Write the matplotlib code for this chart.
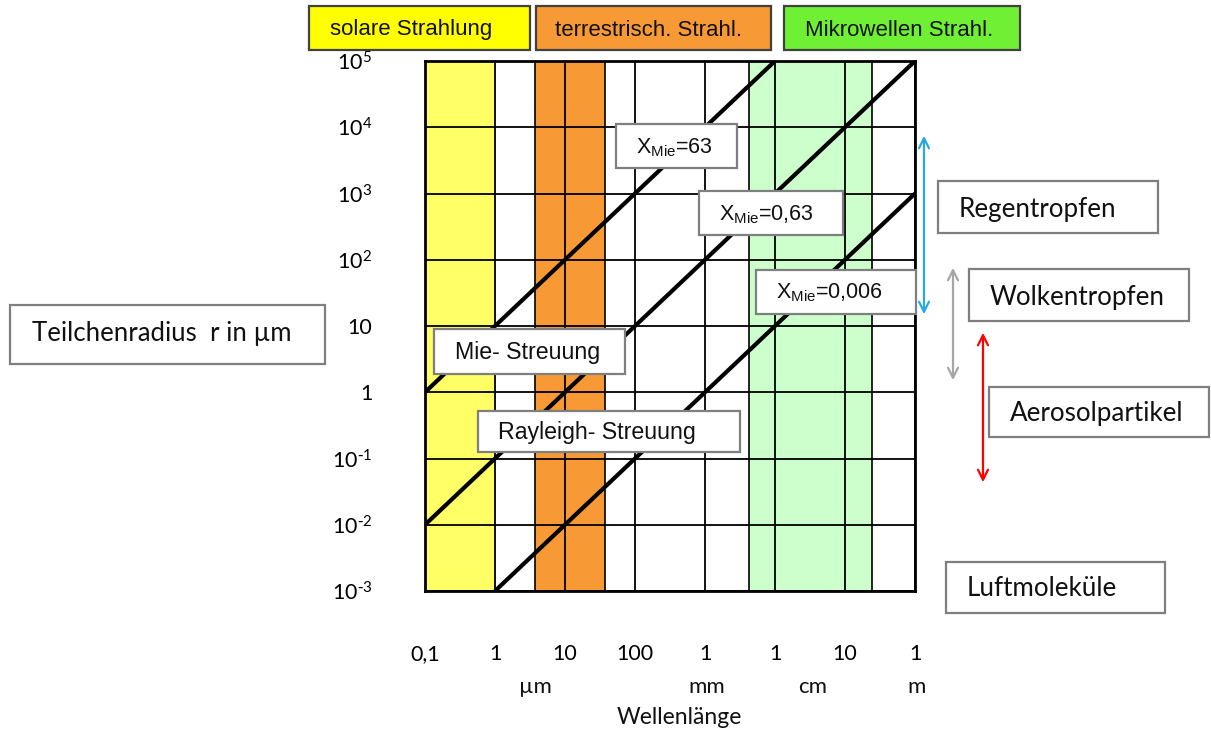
import numpy as np
import matplotlib
matplotlib.use("Agg")
import matplotlib.pyplot as plt
from matplotlib.patches import Rectangle

# Achsen: Wellenlaenge in um, Teilchenradius in um
x_ticks = [0.1, 1, 10, 100, 1e3, 1e4, 1e5, 1e6]
x_labels = ["0,1", "1", "10", "100", "1", "1", "10", "1"]
y_ticks = [1e-3, 1e-2, 1e-1, 1, 10, 1e2, 1e3, 1e4, 1e5]
y_labels = [r"$\mathregular{10^{\text{-}3}}$", r"$\mathregular{10^{\text{-}2}}$",
            r"$\mathregular{10^{\text{-}1}}$", "1", "10", r"$\mathregular{10^{2}}$",
            r"$\mathregular{10^{3}}$", r"$\mathregular{10^{4}}$", r"$\mathregular{10^{5}}$"]

# Strahlungsbereiche (um)
solar_band = [0.1, 1]
terr_band = [3.7, 37]
micro_band = [4.2e3, 2.4e5]

# Linien konstanter Mie-Parameter (Endpunkte aus dem Bild)
lam_63 = [0.1, 1e4]
r_63 = [1, 1e5]
lam_063 = [0.1, 1e6]
r_063 = [1e-2, 1e5]
lam_0006 = [1, 1e6]
r_0006 = [1e-3, 1e3]

CAL = ["Lato", "DejaVu Sans"]
ARI = ["Liberation Sans", "DejaVu Sans"]

W, H = 1211, 736
fig = plt.figure(figsize=(W / 100, H / 100), dpi=100)
ax = fig.add_axes([425 / W, 1 - 591 / H, 490 / W, 530 / H])
ax.set_xscale("log")
ax.set_yscale("log")
ax.set_xlim(0.1, 1e6)
ax.set_ylim(1e-3, 1e5)

ax.axvspan(*solar_band, color="#FFFF66", lw=0)
ax.axvspan(*terr_band, color="#F79A35", lw=0)
ax.axvspan(*micro_band, color="#CCFFCC", lw=0)
for v in terr_band + micro_band:
    ax.axvline(v, color="black", lw=1.2, zorder=1.6)

ax.set_xticks(x_ticks)
ax.set_xticklabels(x_labels, fontfamily=CAL, fontsize=15.5)
ax.set_yticks(y_ticks)
ax.set_yticklabels(y_labels, fontfamily=CAL, fontsize=15.5)
ax.minorticks_off()
ax.tick_params(length=0, pad=38)
ax.grid(True, color="black", lw=1.3)
for s in ax.spines.values():
    s.set_linewidth(2)
    s.set_color("black")

for lx, ly in [(lam_63, r_63), (lam_063, r_063), (lam_0006, r_0006)]:
    ax.plot(lx, ly, color="black", lw=3, solid_capstyle="butt")

# Ueberlagerung in Pixelkoordinaten fuer Kaesten und Beschriftung
ov = fig.add_axes([0, 0, 1, 1], zorder=5)
ov.set_xlim(0, W)
ov.set_ylim(H, 0)
ov.axis("off")
ov.patch.set_alpha(0)


def box(x0, y0, x1, y1, text, tx, ty, fam, fs, fc="white", ec="#7f7f7f", clip=None):
    ov.add_patch(Rectangle((x0, y0), x1 - x0, y1 - y0, facecolor=fc, edgecolor=ec, lw=1.6))
    t = ov.text(tx, ty, text, family=fam, fontsize=fs, va="center", ha="left", color="#111111")
    if clip is not None:
        cp = Rectangle((x0, y0), x1 - x0, clip - y0, transform=ov.transData)
        t.set_clip_path(cp)


# Kopfzeile
box(309, 6, 530, 50, "solare Strahlung", 330, 30, ARI, 16, fc="#FFFF00", ec="#404040", clip=38)
box(536, 6, 771, 50, "terrestrisch. Strahl.", 555, 30, ARI, 16, fc="#F79A35", ec="#404040")
box(784, 6, 1020, 50, "Mikrowellen Strahl.", 805, 30, ARI, 16, fc="#6FF035", ec="#404040")

# Kaesten im Diagramm
box(616, 124, 737, 168, r"$\mathregular{X_{Mie}}$=63", 636, 148, ARI, 15.5)
box(699, 191, 843, 235, r"$\mathregular{X_{Mie}}$=0,63", 719, 215, ARI, 15.5)
box(756, 270, 916, 314, r"$\mathregular{X_{Mie}}$=0,006", 776, 293, ARI, 15.5)
box(434, 329, 625, 374, "Mie- Streuung", 455, 353, ARI, 16.7, clip=362)
box(478, 411, 740, 452, "Rayleigh- Streuung", 498, 432, ARI, 16.7, clip=441)

# Kaesten rechts und links
box(938, 181, 1158, 233, "Regentropfen", 959, 210, CAL, 18.7)
box(969, 269, 1189, 321, "Wolkentropfen", 990, 297, CAL, 18.7)
box(989, 387, 1209, 437, "Aerosolpartikel", 1010, 414, CAL, 18.7)
box(946, 562, 1165, 613, "Luftmoleküle", 967, 589, CAL, 18.7)
box(10, 305, 325, 364, "Teilchenradius  r in µm", 32, 334, CAL, 18.5)

# Pfeile
for xa, ya, yb, c in [(924, 133, 317, "#29A9E0"), (953, 265, 383, "#A6A6A6"), (983, 330, 485, "#FF0000")]:
    ov.annotate("", xy=(xa, ya), xytext=(xa, yb),
                arrowprops=dict(arrowstyle="<->", color=c, lw=1.6, mutation_scale=18))

# Einheiten und Achsentitel
for ux, ut in [(535, "µm"), (707, "mm"), (813, "cm"), (917, "m")]:
    ov.text(ux, 687, ut, family=CAL, fontsize=16, ha="center", va="center", color="#111111")
ov.text(679, 718, "Wellenlänge", family=CAL, fontsize=16.5, ha="center", va="center", color="#111111")

fig.savefig("out.png", dpi=100)
